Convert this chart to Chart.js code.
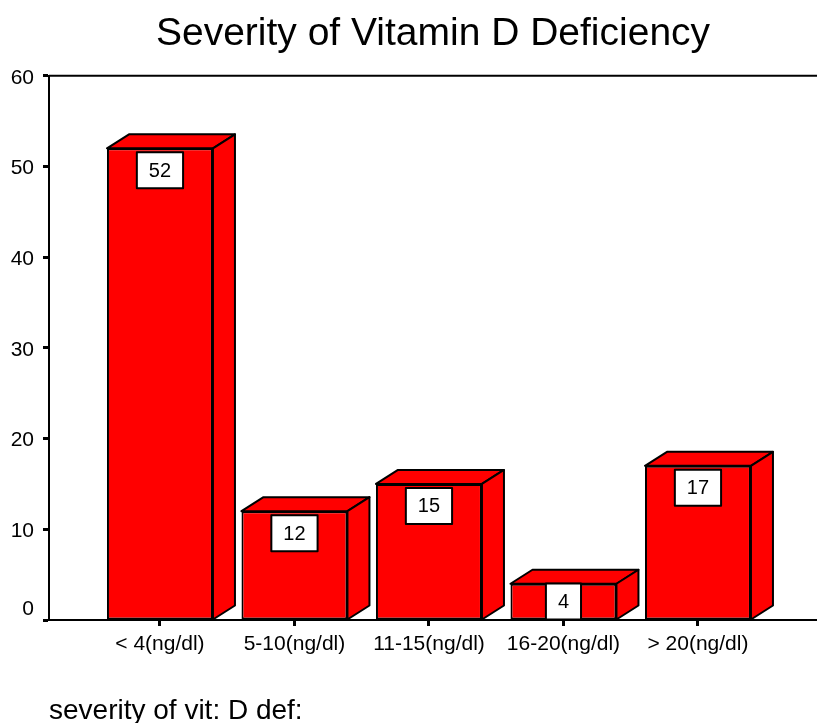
<!DOCTYPE html>
<html>
<head>
<meta charset="utf-8">
<script src="https://cdn.jsdelivr.net/npm/chart.js@4.4.1/dist/chart.umd.min.js"></script>
<style>
  body { margin: 0; background: #fff; }
  #wrap { width: 817px; height: 723px; }
</style>
</head>
<body>
<div id="wrap"><canvas id="myChart"></canvas></div>
<script>
// values
var categories = ['< 4(ng/dl)', '5-10(ng/dl)', '11-15(ng/dl)', '16-20(ng/dl)', '> 20(ng/dl)'];
var counts = [52, 12, 15, 4, 17];
var yTicks = [0, 10, 20, 30, 40, 50, 60];
var chartTitle = 'Severity of Vitamin D Deficiency';
var axisTitle = 'severity of vit: D def:';

var FONT = "'Liberation Sans', Arial, sans-serif";

// 3d faces + white value boxes on top of the bars
var bar3d = {
    id: 'bar3d',
    afterDatasetsDraw: function (chart) {
        var ctx = chart.ctx;
        var meta = chart.getDatasetMeta(0);
        var dx = 22, dy = 14;
        ctx.save();
        ctx.lineWidth = 2;
        ctx.lineJoin = 'round';
        ctx.strokeStyle = '#000';
        ctx.fillStyle = '#ff0000';
        meta.data.forEach(function (bar, i) {
            var p = bar.getProps(['x', 'y', 'base', 'width'], true);
            var l = p.x - p.width / 2, r = p.x + p.width / 2;
            // top face
            ctx.beginPath();
            ctx.moveTo(l, p.y);
            ctx.lineTo(l + dx, p.y - dy);
            ctx.lineTo(r + dx, p.y - dy);
            ctx.lineTo(r, p.y);
            ctx.closePath();
            ctx.fill();
            ctx.stroke();
            // side face
            ctx.beginPath();
            ctx.moveTo(r, p.y);
            ctx.lineTo(r + dx, p.y - dy);
            ctx.lineTo(r + dx, p.base - dy);
            ctx.lineTo(r, p.base);
            ctx.closePath();
            ctx.fill();
            ctx.stroke();
        });
        // value boxes
        ctx.font = '20px ' + FONT;
        ctx.textAlign = 'center';
        ctx.textBaseline = 'middle';
        meta.data.forEach(function (bar, i) {
            var p = bar.getProps(['x', 'y', 'base'], true);
            var txt = String(counts[i]);
            var bw = ctx.measureText(txt).width + 24;
            var bh = 36;
            var top = Math.min(p.y + 4, p.base - bh);
            ctx.fillStyle = '#fff';
            ctx.fillRect(p.x - bw / 2, top, bw, bh);
            ctx.strokeRect(p.x - bw / 2, top, bw, bh);
            ctx.fillStyle = '#000';
            ctx.fillText(txt, p.x, top + bh / 2 + 1);
        });
        // top frame line
        var a = chart.chartArea;
        ctx.beginPath();
        ctx.moveTo(a.left, a.top);
        ctx.lineTo(a.right, a.top);
        ctx.stroke();
        ctx.restore();
    }
};

var ctx = document.getElementById('myChart');
var myChart = new Chart(ctx, {
    type: 'bar',
    data: {
        datasets: [{
            data: counts.map(function (v, i) { return { x: i + 1, y: v }; }),
            backgroundColor: '#ff0000',
            borderColor: '#000',
            borderWidth: 2,
            borderSkipped: false,
            barPercentage: 0.788,
            categoryPercentage: 1
        }]
    },
    options: {
        responsive: true,
        maintainAspectRatio: false,
        animation: false,
        layout: { padding: 0 },
        plugins: {
            legend: { display: false },
            tooltip: { enabled: false },
            title: {
                display: true,
                text: chartTitle,
                fullSize: false,
                color: '#000',
                font: { family: FONT, size: 39, weight: 'normal' },
                padding: { top: 11, bottom: 18 }
            }
        },
        scales: {
            x: {
                type: 'linear',
                offset: false,
                min: 0.175,
                max: 5.885,
                afterFit: function (scale) { scale.height = 103; },
                afterBuildTicks: function (scale) {
                    scale.ticks = categories.map(function (c, i) { return { value: i + 1 }; });
                },
                ticks: {
                    autoSkip: false,
                    maxRotation: 0,
                    color: '#000',
                    padding: 6,
                    font: { family: FONT, size: 21 },
                    callback: function (v) { return categories[v - 1]; }
                },
                grid: {
                    offset: false,
                    drawOnChartArea: false,
                    drawTicks: true,
                    tickLength: 6,
                    tickWidth: 3,
                    tickColor: '#000'
                },
                border: { display: true, color: '#000', width: 2 },
                title: {
                    display: true,
                    text: axisTitle,
                    align: 'start',
                    color: '#000',
                    font: { family: FONT, size: 28, lineHeight: 0.85 },
                    padding: 0
                }
            },
            y: {
                min: 0,
                max: 60,
                afterFit: function (scale) { scale.width = 49; },
                afterBuildTicks: function (scale) {
                    scale.ticks = yTicks.map(function (v) { return { value: v }; });
                },
                ticks: {
                    color: '#000',
                    padding: 9,
                    labelOffset: 2,
                    font: { family: FONT, size: 21 },
                    callback: function (v) { return v === 0 ? ['0', ''] : String(v); }
                },
                grid: {
                    drawOnChartArea: false,
                    drawTicks: true,
                    tickLength: 6,
                    tickWidth: 3,
                    tickColor: '#000'
                },
                border: { display: true, color: '#000', width: 2 }
            }
        }
    },
    plugins: [bar3d]
});
</script>
</body>
</html>
